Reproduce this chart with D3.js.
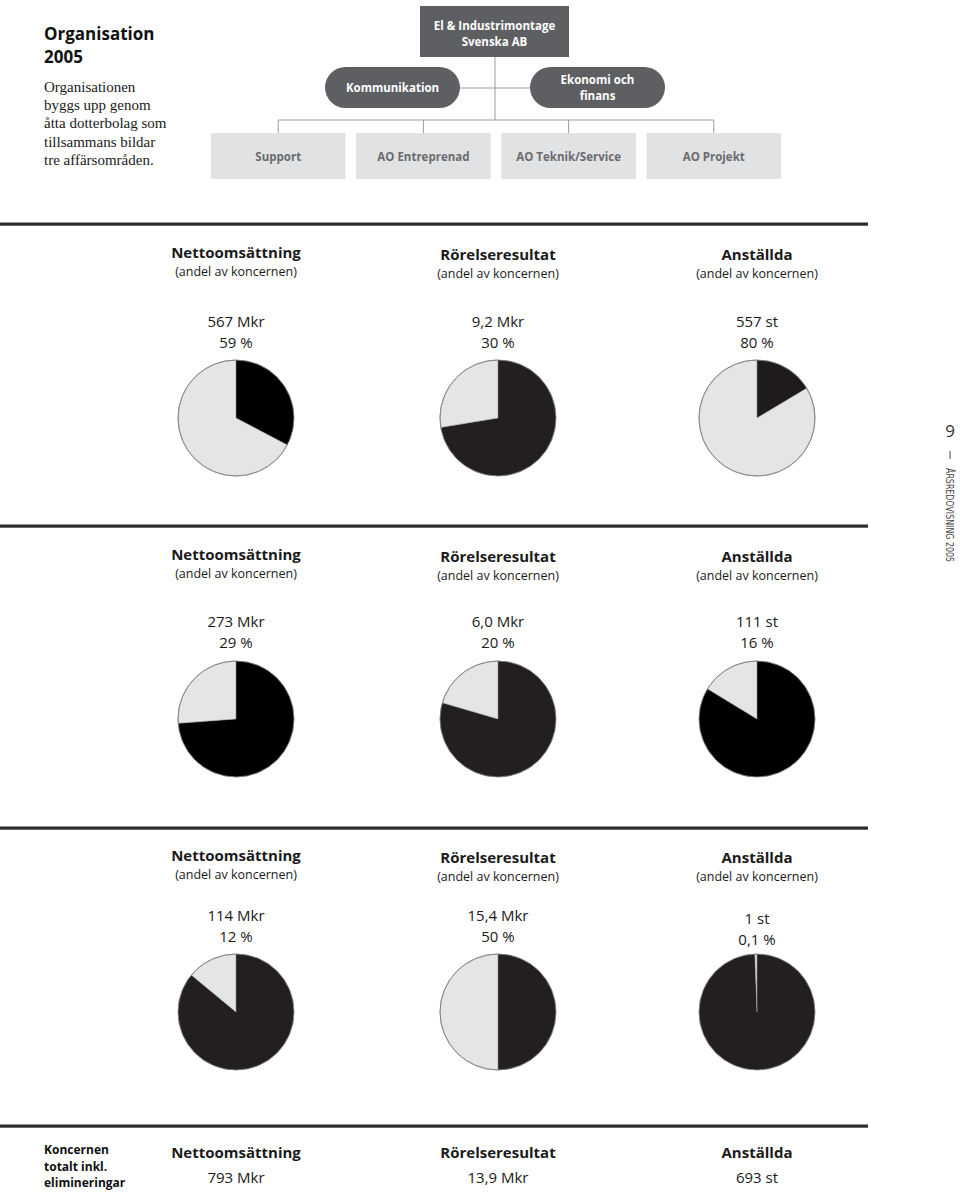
<!DOCTYPE html>
<html><head><meta charset="utf-8">
<script src="https://cdn.jsdelivr.net/npm/d3@7"></script>
<style>
html,body{margin:0;padding:0;background:#fff;}
svg{display:block;}
</style></head>
<body>
<svg id="c" width="960" height="1192"></svg>
<script>
// ---------- data ----------
const titleLines = ["Organisation", "2005"];
const introLines = ["Organisationen", "byggs upp genom", "åtta dotterbolag som", "tillsammans bildar", "tre affärsområden."];
const orgTop = ["El & Industrimontage", "Svenska AB"];
const orgStaff = [["Kommunikation"], ["Ekonomi och", "finans"]];
const orgUnits = ["Support", "AO Entreprenad", "AO Teknik/Service", "AO Projekt"];
const measures = ["Nettoomsättning", "Rörelseresultat", "Anställda"];
const measureSub = "(andel av koncernen)";
const amounts = [["567 Mkr", "9,2 Mkr", "557 st"], ["273 Mkr", "6,0 Mkr", "111 st"], ["114 Mkr", "15,4 Mkr", "1 st"]];
const percents = [["59 %", "30 %", "80 %"], ["29 %", "20 %", "16 %"], ["12 %", "50 %", "0,1 %"]];
// dark share of each pie as drawn (percent, clockwise from 12 o'clock)
const darkShare = [[32.7, 72.4, 16.4], [73.8, 79.5, 83.7], [86.0, 50.0, 99.4]];
const totalLabel = ["Koncernen", "totalt inkl.", "elimineringar"];
const totals = ["793 Mkr", "13,9 Mkr", "693 st"];
const pageNo = "9";
const sideText = "ÅRSREDOVISNING 2005";

// ---------- style / layout ----------
const SANS = "'Open Sans', 'Noto Sans', sans-serif";
const SERIF = "'Liberation Serif', 'DejaVu Serif', serif";
const darkFill = [["#000000", "#231f20", "#1f1b1c"], ["#000000", "#231f20", "#000000"], ["#231f20", "#231f20", "#231f20"]];
const lightFill = "#e4e5e6";
const colX = [236, 498, 757];
const ruleY = [224, 526, 828, 1126];
const headY = [258, 560, 861];
const subY = [276, 578, 879];
const amtY = [[327, 327, 327], [627, 627, 627], [921, 921, 924]];
const pctY = [[348, 348, 348], [648, 648, 648], [942, 942, 945]];
const pieY = [418, 719, 1012];
const R = 58;

const svg = d3.select("#c");

// ---------- left intro ----------
svg.append("g").selectAll("text").data(titleLines).join("text")
  .attr("x", 44).attr("y", (d, i) => 39.5 + i * 23.5)
  .attr("font-family", SANS).attr("font-weight", 700).attr("font-size", 17)
  .attr("fill", "#111").text(d => d);
svg.append("g").selectAll("text").data(introLines).join("text")
  .attr("x", 44).attr("y", (d, i) => 92 + i * 18.2)
  .attr("font-family", SERIF).attr("font-size", 15)
  .attr("fill", "#1a1a1a").text(d => d);

// ---------- org chart ----------
const org = svg.append("g");
const lineCol = "#9c9d9f";
const unitX = d3.scaleBand().domain(orgUnits).range([211, 781]).paddingInner(0.0737).paddingOuter(0);
// connectors
org.append("line").attr("x1", 495).attr("x2", 495).attr("y1", 57).attr("y2", 120).attr("stroke", lineCol);
org.append("line").attr("x1", 460).attr("x2", 530).attr("y1", 88).attr("y2", 88).attr("stroke", lineCol);
const unitCenters = orgUnits.map(u => unitX(u) + unitX.bandwidth() / 2);
org.append("line").attr("x1", unitCenters[0]).attr("x2", unitCenters[3]).attr("y1", 120).attr("y2", 120).attr("stroke", lineCol);
org.selectAll("line.drop").data(orgUnits).join("line").attr("class", "drop")
  .attr("x1", d => unitX(d) + unitX.bandwidth() / 2).attr("x2", d => unitX(d) + unitX.bandwidth() / 2)
  .attr("y1", 120).attr("y2", 133).attr("stroke", lineCol);
// top box
org.append("rect").attr("x", 420).attr("y", 6).attr("width", 149).attr("height", 51).attr("fill", "#5e5f62");
org.append("g").selectAll("text").data(orgTop).join("text")
  .attr("x", 494.5).attr("y", (d, i) => 30 + i * 16).attr("text-anchor", "middle")
  .attr("font-family", SANS).attr("font-weight", 700).attr("font-size", 11.5).attr("fill", "#fff").text(d => d);
// staff pills
const pillX = [325, 530];
orgStaff.forEach((lines, k) => {
  org.append("rect").attr("x", pillX[k]).attr("y", 67).attr("width", 135).attr("height", 41)
    .attr("rx", 20.5).attr("fill", "#5e5f62");
  org.append("g").selectAll("text").data(lines).join("text")
    .attr("x", pillX[k] + 67.5)
    .attr("y", (d, i) => 92 - (lines.length - 1) * 8 + i * 16)
    .attr("text-anchor", "middle").attr("font-family", SANS).attr("font-weight", 700)
    .attr("font-size", 11.5).attr("fill", "#fff").text(d => d);
});
// unit boxes
org.selectAll("rect.unit").data(orgUnits).join("rect").attr("class", "unit")
  .attr("x", d => unitX(d)).attr("y", 133).attr("width", unitX.bandwidth()).attr("height", 46)
  .attr("fill", "#e1e2e3");
org.selectAll("text.unit").data(orgUnits).join("text").attr("class", "unit")
  .attr("x", d => unitX(d) + unitX.bandwidth() / 2).attr("y", 160.5).attr("text-anchor", "middle")
  .attr("font-family", SANS).attr("font-weight", 700).attr("font-size", 11.5).attr("fill", "#6a6b6e")
  .text(d => d);

// ---------- rules ----------
svg.append("g").selectAll("rect").data(ruleY).join("rect")
  .attr("x", 0).attr("y", d => d - 1.5).attr("width", 868).attr("height", 3.2).attr("fill", "#2b2b2b");

// ---------- pies ----------
const pie = d3.pie().sort(null).value(d => d);
const arc = d3.arc().innerRadius(0).outerRadius(R);
darkShare.forEach((row, r) => {
  row.forEach((v, c) => {
    const g = svg.append("g");
    const dy = c === 0 ? 0 : 2;
    g.append("text").attr("x", colX[c]).attr("y", headY[r] + dy).attr("text-anchor", "middle")
      .attr("font-family", SANS).attr("font-weight", 700).attr("font-size", 15).attr("fill", "#1a1a1a")
      .text(measures[c]);
    g.append("text").attr("x", colX[c]).attr("y", subY[r] + dy).attr("text-anchor", "middle")
      .attr("font-family", SANS).attr("font-size", 12.5).attr("fill", "#1a1a1a").text(measureSub);
    g.append("text").attr("x", colX[c]).attr("y", amtY[r][c]).attr("text-anchor", "middle")
      .attr("font-family", SANS).attr("font-size", 15).attr("fill", "#1a1a1a").text(amounts[r][c]);
    g.append("text").attr("x", colX[c]).attr("y", pctY[r][c]).attr("text-anchor", "middle")
      .attr("font-family", SANS).attr("font-size", 15).attr("fill", "#1a1a1a").text(percents[r][c]);
    const pg = g.append("g").attr("transform", `translate(${colX[c]},${pieY[r]})`);
    pg.selectAll("path").data(pie([v, 100 - v])).join("path")
      .attr("d", arc).attr("fill", (d, i) => i === 0 ? darkFill[r][c] : lightFill)
      .attr("stroke", (d, i) => i === 0 ? "none" : "#8a8b8d").attr("stroke-width", 0.6);
    pg.append("circle").attr("r", R).attr("fill", "none").attr("stroke", "#7d7e80").attr("stroke-width", 0.9);
  });
});

// ---------- totals ----------
svg.append("g").selectAll("text").data(totalLabel).join("text")
  .attr("x", 44).attr("y", (d, i) => 1154 + i * 16.5)
  .attr("font-family", SANS).attr("font-weight", 700).attr("font-size", 12).attr("fill", "#111").text(d => d);
svg.append("g").selectAll("text").data(measures).join("text")
  .attr("x", (d, i) => colX[i]).attr("y", 1158).attr("text-anchor", "middle")
  .attr("font-family", SANS).attr("font-weight", 700).attr("font-size", 15).attr("fill", "#1a1a1a").text(d => d);
svg.append("g").selectAll("text").data(totals).join("text")
  .attr("x", (d, i) => colX[i]).attr("y", 1183).attr("text-anchor", "middle")
  .attr("font-family", SANS).attr("font-size", 15).attr("fill", "#1a1a1a").text(d => d);

// ---------- side marker ----------
svg.append("text").attr("x", 950).attr("y", 437).attr("text-anchor", "middle")
  .attr("font-family", SANS).attr("font-size", 17).attr("fill", "#333").text(pageNo);
svg.append("line").attr("x1", 950).attr("x2", 950).attr("y1", 451).attr("y2", 459).attr("stroke", "#555").attr("stroke-width", 1);
svg.append("text").attr("transform", "translate(946,468) rotate(90)")
  .attr("font-family", "'Liberation Sans Narrow', 'DejaVu Sans Condensed', sans-serif").attr("font-size", 11)
  .attr("textLength", 94).attr("lengthAdjust", "spacingAndGlyphs")
  .attr("fill", "#444").text(sideText);
</script>
</body></html>
